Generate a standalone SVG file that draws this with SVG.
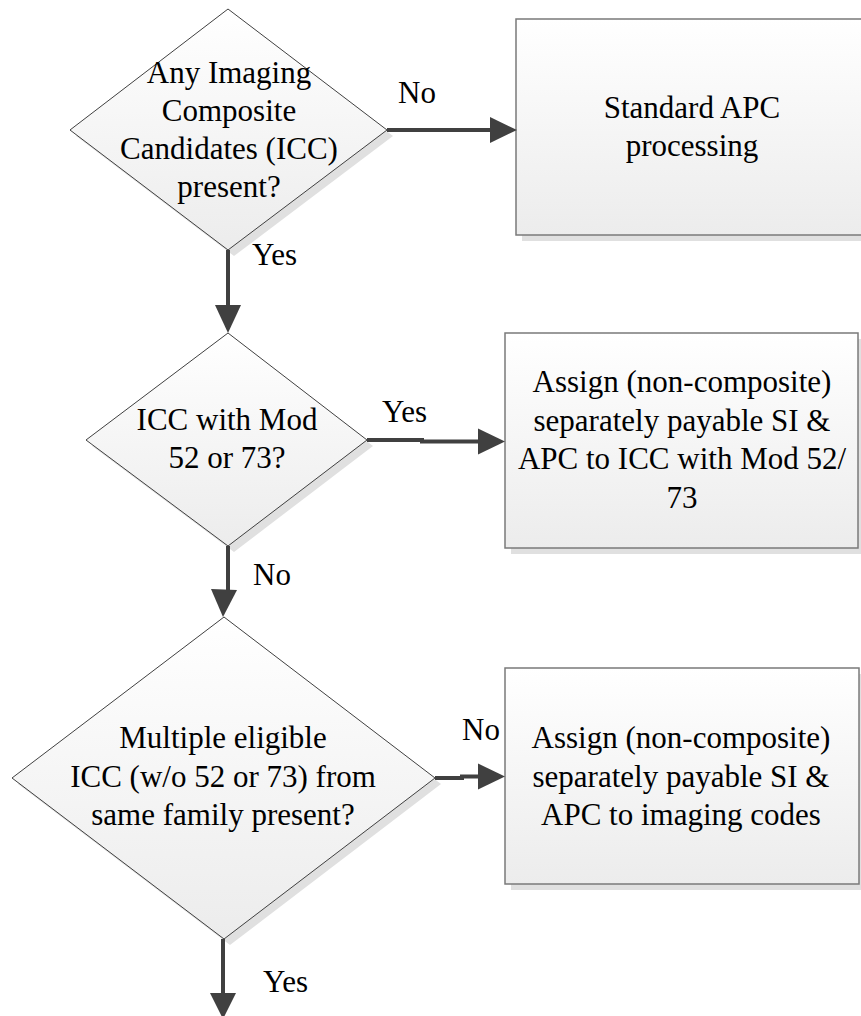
<svg xmlns="http://www.w3.org/2000/svg" width="861" height="1016" viewBox="0 0 861 1016">
<defs>
<linearGradient id="g" x1="0" y1="0" x2="0" y2="1">
<stop offset="0" stop-color="#ffffff"/>
<stop offset="1" stop-color="#ececec"/>
</linearGradient>
<style>
text{font-family:'Liberation Serif','Times New Roman',serif;font-size:31px;fill:#000}
.c{text-anchor:middle}
.shadow{fill:#e0e0e0;stroke:none}
.dia{fill:url(#g);stroke:#404040;stroke-width:1}
.box{fill:url(#g);stroke:#7a7a7a;stroke-width:1.5}
.ln{fill:none;stroke:#404040;stroke-width:4}
.ah{fill:#404040;stroke:none}
</style>
</defs>
<rect width="861" height="1016" fill="#ffffff"/>

<g id="d1">
<polygon class="shadow" points="234,15 393,136 234,256 76,136"/>
<polygon class="dia" points="228,9 387,130 228,250 70,130"/>
<text class="c" x="229" y="83">Any Imaging</text>
<text class="c" x="229" y="121">Composite</text>
<text class="c" x="229" y="159">Candidates (ICC)</text>
<text class="c" x="229" y="197">present?</text>
</g>

<g id="b1">
<rect class="shadow" x="522" y="25" width="353" height="216"/>
<rect class="box" x="516" y="19" width="353" height="216"/>
<text class="c" x="692" y="118">Standard APC</text>
<text class="c" x="692" y="156">processing</text>
</g>

<g id="d2">
<polygon class="shadow" points="234,339 373,446 234,552 92,446"/>
<polygon class="dia" points="228,333 367,440 228,546 86,440"/>
<text class="c" x="227" y="430">ICC with Mod</text>
<text class="c" x="227" y="468">52 or 73?</text>
</g>

<g id="b2">
<rect class="shadow" x="511" y="339" width="353" height="215"/>
<rect class="box" x="505" y="333" width="353" height="215"/>
<text class="c" x="682" y="392">Assign (non-composite)</text>
<text class="c" x="682" y="430.7">separately payable SI &amp;</text>
<text class="c" x="682" y="469.3">APC to ICC with Mod 52/</text>
<text class="c" x="682" y="508">73</text>
</g>

<g id="d3">
<polygon class="shadow" points="230,623 441,784 230,945 18,784"/>
<polygon class="dia" points="224,617 435,778 224,939 12,778"/>
<text class="c" x="223" y="748">Multiple eligible</text>
<text class="c" x="223" y="786.5">ICC (w/o 52 or 73) from</text>
<text class="c" x="223" y="825">same family present?</text>
</g>

<g id="b3">
<rect class="shadow" x="511" y="674" width="354" height="216"/>
<rect class="box" x="505" y="668" width="354" height="216"/>
<text class="c" x="681" y="748">Assign (non-composite)</text>
<text class="c" x="681" y="786.5">separately payable SI &amp;</text>
<text class="c" x="681" y="825">APC to imaging codes</text>
</g>

<g id="connectors">
<path class="ln" d="M387,130 L492,130"/>
<polygon class="ah" points="490,117 517,130 490,143"/>
<text x="398" y="103">No</text>

<path class="ln" d="M228,250 L228,307"/>
<polygon class="ah" points="215,305 228,333 241,305"/>
<text x="252" y="265">Yes</text>

<path class="ln" d="M367,440 L422,440 L422,441.5 L480,441.5"/>
<polygon class="ah" points="478,428.5 505,441.5 478,454.5"/>
<text x="382" y="422">Yes</text>

<path class="ln" d="M228,546 L228,598 L225,606"/>
<polygon class="ah" points="211,589 223,617 237,590"/>
<text x="253" y="585">No</text>

<path class="ln" d="M435,778 L462,778 L462,776.5 L480,776.5"/>
<polygon class="ah" points="478,763.5 505,776.5 478,789.5"/>
<text x="462" y="740">No</text>

<path class="ln" d="M223,939 L223,995"/>
<polygon class="ah" points="210,993 223,1019 236,993"/>
<text x="263" y="992">Yes</text>
</g>
</svg>
